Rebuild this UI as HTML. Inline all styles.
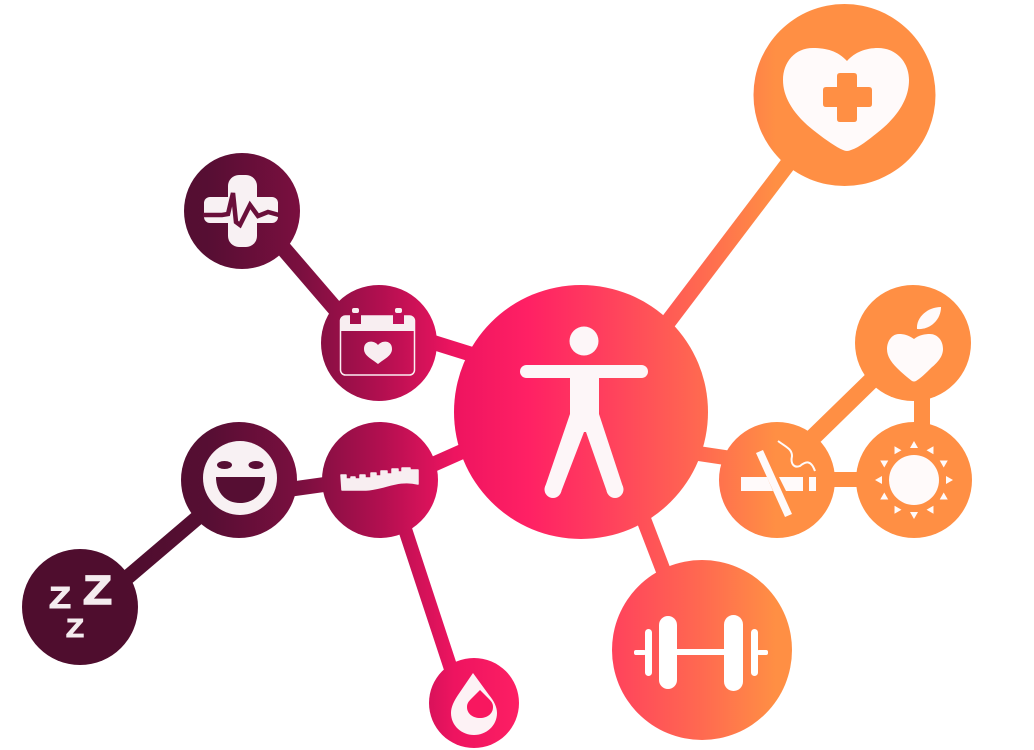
<!DOCTYPE html>
<html><head><meta charset="utf-8"><style>html,body{margin:0;padding:0;background:#fff}svg{display:block}</style></head>
<body>
<svg width="1034" height="750" viewBox="0 0 1034 750" xmlns="http://www.w3.org/2000/svg">
<defs>
<linearGradient id="g" gradientUnits="userSpaceOnUse" x1="0" y1="0" x2="1034" y2="0">
<stop offset="0.12" stop-color="#4f0d2e"/>
<stop offset="0.20" stop-color="#560e33"/>
<stop offset="0.29" stop-color="#7a0f3f"/>
<stop offset="0.37" stop-color="#b30f50"/>
<stop offset="0.44" stop-color="#ee1460"/>
<stop offset="0.51" stop-color="#ff2064"/>
<stop offset="0.58" stop-color="#ff3d5e"/>
<stop offset="0.68" stop-color="#ff6a50"/>
<stop offset="0.75" stop-color="#ff8f44"/>
<stop offset="1" stop-color="#ff8f44"/>
</linearGradient>
</defs>
<g stroke="url(#g)" stroke-width="15" fill="none">
<path d="M265 227L345 320" stroke-width="16"/>
<path d="M432 342L480 357"/>
<path d="M425 468L470 448"/>
<path d="M285 490L335 483"/>
<path d="M210 507L115 588"/>
<path d="M402 520L453 675" stroke-width="14"/>
<path d="M642 515L665 575"/>
<path d="M800 148L668 322" stroke-width="16"/>
<path d="M695 453L735 459"/>
<path d="M880 372L800 450" stroke-width="17"/>
<path d="M922 390V430" stroke-width="16"/>
<path d="M825 479.500H865"/>
</g>
<g fill="url(#g)">
<circle cx="581" cy="412" r="127"/>
<circle cx="844.500" cy="95" r="91"/>
<circle cx="913" cy="343" r="58"/>
<circle cx="914" cy="480" r="58"/>
<circle cx="777" cy="480" r="58"/>
<circle cx="702" cy="650" r="90"/>
<circle cx="474" cy="703" r="45"/>
<circle cx="380" cy="480" r="58"/>
<circle cx="379" cy="343" r="58"/>
<circle cx="242" cy="211" r="58"/>
<circle cx="239" cy="480" r="58"/>
<circle cx="80" cy="607" r="58"/>
</g>
<!-- person -->
<g fill="#fdf6f8" stroke="none">
<circle cx="584" cy="341" r="14.500"/>
<rect x="520" y="365" width="128" height="13" rx="6.500"/>
<rect x="570" y="370" width="29" height="46"/>
<path d="M570 414H599L623 487L607 492L586 432H584L561 492L545 487Z"/>
<circle cx="553" cy="489.500" r="8.500"/>
<circle cx="615" cy="489.500" r="8.500"/>
</g>
<!-- big heart -->
<path d="M847 61C838 51 826 48 813 48C795 48 783 62 783 80C783 97 793 115 817 133C826 140 836 147 843 150Q847 152 851 150C860 147 868 140 877 133C900 115 909 97 909 80C909 62 896 48 878 48C866 48 855 52 847 61Z" fill="#fffafa"/>
<path d="M840 73H854Q857 73 857 76V87H869Q872 87 872 90V104Q872 107 869 107H857V119Q857 122 854 122H840Q837 122 837 119V107H826Q823 107 823 104V90Q823 87 826 87H837V76Q837 73 840 73Z" fill="#ff8f44"/>
<!-- apple heart -->
<path d="M914 339C908 335 904 334 899 334C892 334 887 341 887 349C887 357 892 363 897 368C902 373 908 378 912 381Q914 382 916 381C921 378 926 373 931 368C937 363 943 357 943 349C943 340 937 334 930 334C925 334 919 335 914 339Z" fill="#fffafa"/>
<path d="M917 329C916 317 928 307 941 307C941 320 930 330 917 329Z" fill="#fffafa"/>
<!-- sun -->
<g fill="#fffafa">
<circle cx="914" cy="480" r="25"/>
<g transform="translate(914 480)">
<path d="M0 -39L4 -32H-4Z"/>
<path d="M0 -39L4 -32H-4Z" transform="rotate(30)"/>
<path d="M0 -39L4 -32H-4Z" transform="rotate(60)"/>
<path d="M0 -39L4 -32H-4Z" transform="rotate(90)"/>
<path d="M0 -39L4 -32H-4Z" transform="rotate(120)"/>
<path d="M0 -39L4 -32H-4Z" transform="rotate(150)"/>
<path d="M0 -39L4 -32H-4Z" transform="rotate(180)"/>
<path d="M0 -39L4 -32H-4Z" transform="rotate(210)"/>
<path d="M0 -39L4 -32H-4Z" transform="rotate(240)"/>
<path d="M0 -39L4 -32H-4Z" transform="rotate(270)"/>
<path d="M0 -39L4 -32H-4Z" transform="rotate(300)"/>
<path d="M0 -39L4 -32H-4Z" transform="rotate(330)"/>
</g>
</g>
<!-- cigarette -->
<g fill="#fffafa">
<path d="M741 477H767L773 491H741Z"/>
<path d="M779 477H803V491H786Z"/>
<rect x="809" y="477" width="7" height="14"/>
<path d="M756 453L763 450L792 514L785 517Z"/>
</g>
<path d="M778 441C786 447 792 449 792 456C790 465 795 468 800 466C806 461 811 460 815 471" fill="none" stroke="#fffafa" stroke-width="2"/>
<!-- dumbbell -->
<g fill="#fff">
<rect x="659" y="616" width="18" height="73" rx="9"/>
<rect x="724" y="615" width="19" height="76" rx="9.500"/>
<rect x="677" y="649" width="47" height="6"/>
<rect x="645" y="629" width="7" height="47" rx="3.500"/>
<rect x="751" y="629" width="7" height="47" rx="3.500"/>
<rect x="634" y="650" width="12" height="5" rx="2"/>
<rect x="757" y="650" width="11" height="5" rx="2"/>
</g>
<!-- drop -->
<path d="M473 673L489 695C494 701 497 707 497 713C497 726 486 735 474 735C462 735 451 726 451 713C451 707 454 701 458 695Z" fill="#fdf2f5"/>
<path d="M480 690L489 699C492 702 493 704 493 707C493 714 487 718 480 718C473 718 467 714 467 707C467 704 468 702 471 699Z" fill="#f8175f"/>
<!-- ECG cross -->
<g fill="#f8f1f3">
<rect x="228" y="175" width="29" height="72" rx="11"/>
<rect x="204" y="197" width="74" height="26" rx="6"/>
</g>
<path d="M203 215H222L228 214L233 193L236 222L240 225L250 205L258 216L268 212L279 215" fill="none" stroke="#6a0f3a" stroke-width="4.500"/>
<!-- calendar -->
<rect x="340.500" y="316" width="74" height="59" rx="5" fill="none" stroke="#fbeef2" stroke-width="1.500"/>
<path d="M345 316H410Q414.500 316 414.500 321V331H340V321Q340 316 345 316Z" fill="#f8eef1"/>
<rect x="350" y="313" width="11" height="11" fill="#a50f4c"/>
<rect x="393" y="313" width="11" height="11" fill="#c0105a"/>
<rect x="352" y="308" width="7" height="5" rx="2" fill="#f8eef1"/>
<rect x="395" y="308" width="7" height="5" rx="2" fill="#f8eef1"/>
<path d="M378 345C374 340 364 340 364 349C364 356 372 359 378 364C384 359 392 356 392 349C392 340 382 340 378 345Z" fill="#f8eef1"/>
<!-- smile -->
<circle cx="240" cy="478" r="37" fill="#f8f1f3"/>
<path d="M216 477H265C265 493 254 503 240 503C226 503 216 493 216 477Z" fill="#560e33"/>
<ellipse cx="224.500" cy="465" rx="7.500" ry="4" fill="#560e33"/>
<ellipse cx="256" cy="465" rx="7.500" ry="4" fill="#5a0e35"/>
<!-- ruler -->
<path d="M341 475H346V479H351V477H355V479H360V475H365V478H371V473H376V476H381V471H387V474H392V469H398V472H402V468H410V470H418V484C398 479 385 489 366 490L342 490Z" fill="#f8eef1" stroke="#f8eef1" stroke-width="1.500" stroke-linejoin="round"/>
<!-- zzz -->
<g fill="#f4ecef" stroke="#f4ecef" font-family="'Liberation Sans',sans-serif" font-weight="700">
<text x="83" y="604" font-size="41" textLength="29" lengthAdjust="spacingAndGlyphs" stroke-width="1.500">Z</text>
<text x="49" y="608" font-size="31" textLength="22" lengthAdjust="spacingAndGlyphs" stroke-width="1">Z</text>
<text x="66" y="637" font-size="26" textLength="18" lengthAdjust="spacingAndGlyphs" stroke-width="1">Z</text>
</g>
</svg>
</body></html>
